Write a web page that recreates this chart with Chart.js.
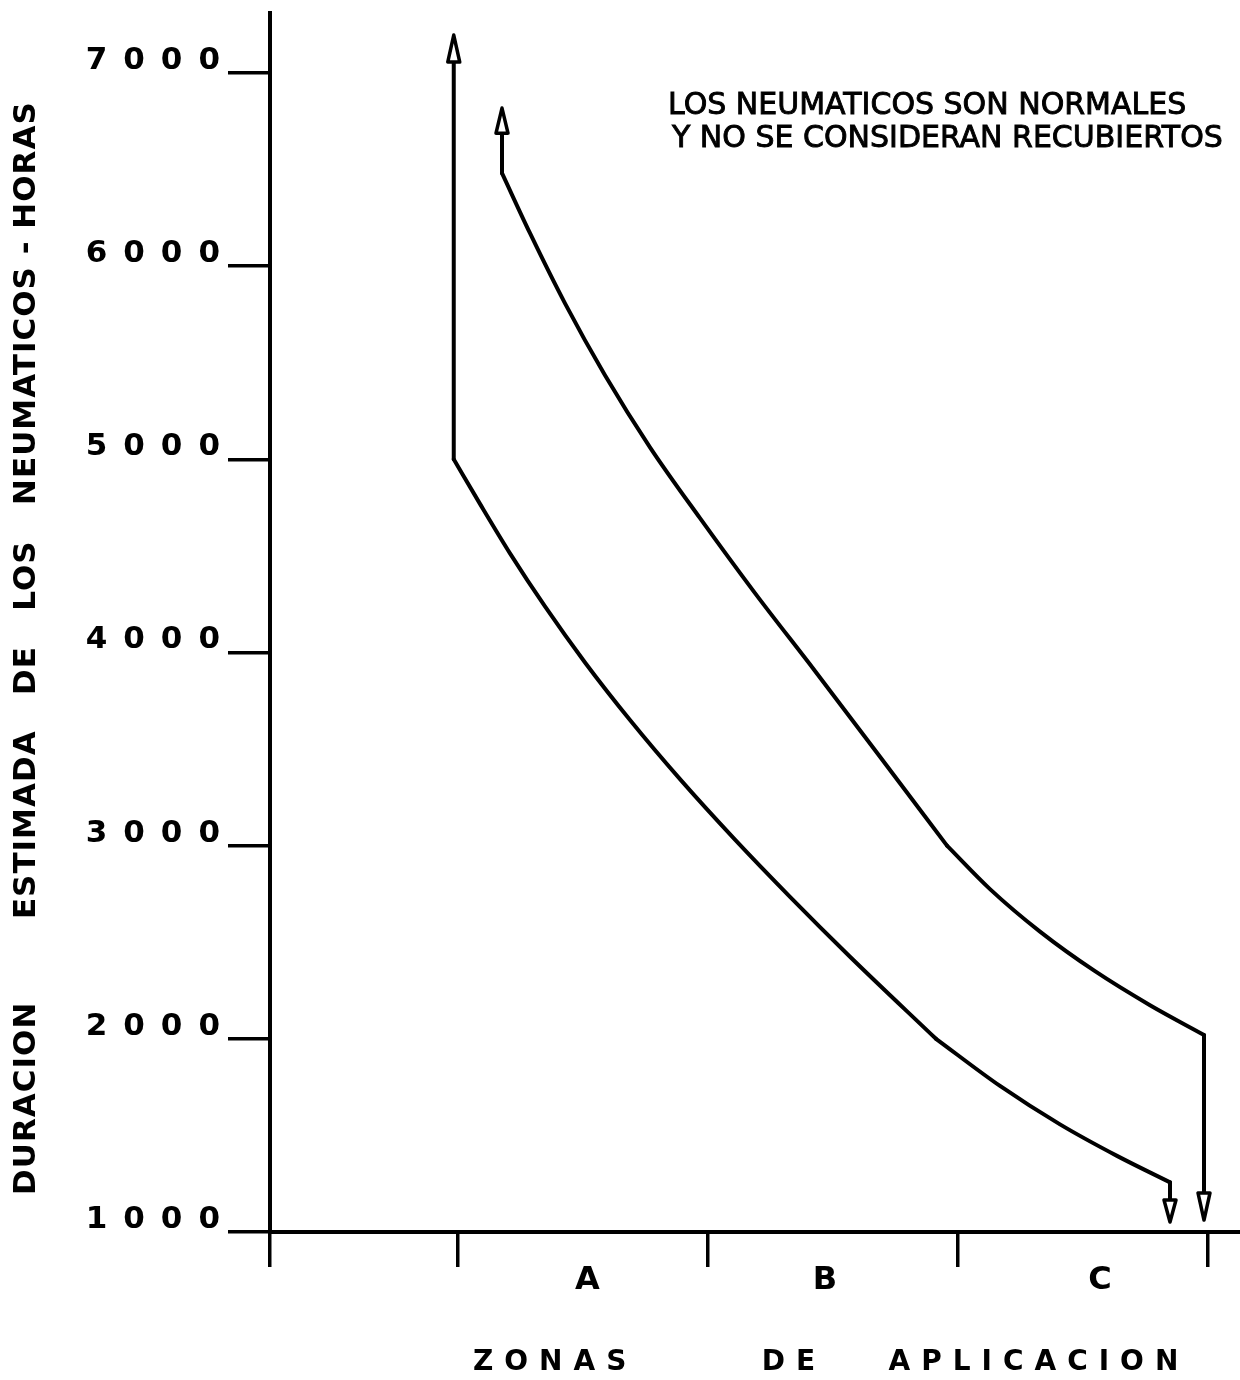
<!DOCTYPE html>
<html>
<head>
<meta charset="utf-8">
<script src="https://cdn.jsdelivr.net/npm/chart.js@4/dist/chart.umd.min.js"></script>
<style>
  html, body { margin: 0; padding: 0; background: #ffffff; }
  #wrap { width: 1240px; height: 1380px; position: relative; }
</style>
</head>
<body>
<div id="wrap"><canvas id="c"></canvas></div>
<script>
// ---- Data ----
const yTickValues = [1000, 2000, 3000, 4000, 5000, 6000, 7000];
const yMin = 1000;
const yMax = 7310;
const xMin = 0;
const xMax = 3.88;
const zoneBoundaries = [0, 0.75, 1.75, 2.75, 3.75];
const zoneLabels = ['A', 'B', 'C'];
const zoneLabelPositions = [1.27, 2.22, 3.32];

// lower curve: top of vertical arrow line -> 5000 corner -> 2000 corner -> base of down arrow
const lowerX = [0.735, 0.735, 0.84, 0.96, 1.10, 1.26, 1.44, 1.64, 1.86, 2.08, 2.32, 2.664, 2.92, 3.16, 3.388, 3.60, 3.60];
const lowerY = [7056, 5000, 4769, 4513, 4238, 3948, 3650, 3344, 3031, 2735, 2425, 2000, 1756, 1557, 1394, 1257, 1166];
const lowerCorners = [1, 11, 15];

// upper curve: top of vertical arrow line -> 6480 corner -> 3000 corner -> 2000 corner -> base of down arrow
const upperX = [0.928, 0.928, 1.04, 1.18, 1.34, 1.52, 1.72, 1.94, 2.18, 2.44, 2.708, 2.88, 3.08, 3.30, 3.52, 3.736, 3.736];
const upperY = [6688, 6481, 6170, 5807, 5435, 5062, 4695, 4307, 3904, 3460, 3000, 2775, 2555, 2350, 2174, 2020, 1202];
const upperCorners = [1, 10, 15];

// arrow tips: lower-top, lower-bottom, upper-top, upper-bottom
const arrowTipX = [0.735, 3.60, 0.928, 3.736];
const arrowTipY = [7196, 1052, 6818, 1062];

const yTitle = 'DURACION       ESTIMADA   DE   LOS   NEUMATICOS - HORAS';
const xTitle = 'ZONAS      DE   APLICACION';
const noteLines = ['LOS NEUMATICOS SON NORMALES', 'Y NO SE CONSIDERAN RECUBIERTOS'];

// ---- Build ----
const toPts = (xs, ys) => xs.map((v, i) => ({ x: v, y: ys[i] }));
const lowerPts = toPts(lowerX, lowerY);
const upperPts = toPts(upperX, upperY);
const arrowBases = [lowerPts[0], lowerPts[lowerPts.length - 1], upperPts[0], upperPts[upperPts.length - 1]];

function pieces(pts, corners) {
  const cuts = [0].concat(corners, [pts.length - 1]);
  const out = [];
  for (let i = 0; i < cuts.length - 1; i++) out.push(pts.slice(cuts[i], cuts[i + 1] + 1));
  return out;
}

const FONT = 'DejaVu Sans';
const textStyle = {
  x: { labels: '0px', title: '11px', shift: [203, 0] },
  y: { labels: '16px', title: '1px', shift: [0, -37] }
};

const spacingPlugin = {
  id: 'spacing',
  beforeDraw(chart) {
    ['x', 'y'].forEach(id => {
      const s = chart.scales[id];
      if (!s || s.__wrapped) return;
      const dl = s.drawLabels, dt = s.drawTitle;
      s.drawLabels = function (a) {
        const c = this.ctx; c.save(); c.letterSpacing = textStyle[id].labels; dl.call(this, a); c.restore();
      };
      s.drawTitle = function () {
        const c = this.ctx; c.save(); c.letterSpacing = textStyle[id].title;
        c.translate(textStyle[id].shift[0], textStyle[id].shift[1]);
        dt.call(this); c.restore();
      };
      s.__wrapped = true;
    });
  }
};

const arrowPlugin = {
  id: 'arrows',
  afterDatasetsDraw(chart) {
    const { ctx, scales: { x, y } } = chart;
    ctx.save();
    arrowBases.forEach((b, i) => {
      const bx = x.getPixelForValue(b.x), by = y.getPixelForValue(b.y);
      const tx = x.getPixelForValue(arrowTipX[i]), ty = y.getPixelForValue(arrowTipY[i]);
      const dx = tx - bx, dy = ty - by, len = Math.hypot(dx, dy);
      const px = -dy / len, py = dx / len, hw = 6;
      ctx.beginPath();
      ctx.moveTo(tx, ty);
      ctx.lineTo(bx + px * hw, by + py * hw);
      ctx.lineTo(bx - px * hw, by - py * hw);
      ctx.closePath();
      ctx.fillStyle = '#ffffff';
      ctx.fill();
      ctx.lineWidth = 3.5;
      ctx.lineJoin = 'round';
      ctx.strokeStyle = '#000000';
      ctx.stroke();
    });
    ctx.restore();
  }
};

const notePlugin = {
  id: 'note',
  afterDraw(chart) {
    const ctx = chart.ctx;
    ctx.save();
    ctx.font = '30px "' + FONT + '"';
    ctx.fillStyle = '#000000';
    ctx.strokeStyle = '#000000';
    ctx.lineWidth = 0.9;
    ctx.textAlign = 'left';
    ctx.textBaseline = 'alphabetic';
    ctx.fillText(noteLines[0], 668, 114);
    ctx.strokeText(noteLines[0], 668, 114);
    ctx.fillText(noteLines[1], 672, 147);
    ctx.strokeText(noteLines[1], 672, 147);
    ctx.restore();
  }
};

const lineStyle = {
  showLine: true, borderColor: '#000000', borderWidth: 4, pointRadius: 0,
  cubicInterpolationMode: 'monotone', fill: false, borderJoinStyle: 'round', borderCapStyle: 'round'
};

const datasets = [];
pieces(lowerPts, lowerCorners).forEach((p, i) => datasets.push(Object.assign({ label: 'Inferior ' + (i + 1), data: p }, lineStyle)));
pieces(upperPts, upperCorners).forEach((p, i) => datasets.push(Object.assign({ label: 'Superior ' + (i + 1), data: p }, lineStyle)));

new Chart(document.getElementById('c'), {
  type: 'scatter',
  data: { datasets },
  options: {
    responsive: true,
    maintainAspectRatio: false,
    animation: false,
    layout: { padding: { top: 13, left: 0, right: 0, bottom: 0 } },
    plugins: { legend: { display: false }, tooltip: { enabled: false } },
    scales: {
      x: {
        type: 'linear', position: 'bottom', min: xMin, max: xMax,
        afterFit: s => { s.height = 148; },
        afterBuildTicks: s => {
          s.ticks = zoneBoundaries.concat(zoneLabelPositions).sort((a, b) => a - b).map(v => ({ value: v }));
        },
        grid: {
          display: true, drawOnChartArea: false, drawTicks: true, tickLength: 35, lineWidth: 3.5,
          color: c => (c.tick && zoneBoundaries.includes(c.tick.value)) ? '#000000' : 'rgba(0,0,0,0)'
        },
        border: { display: true, color: '#000000', width: 4 },
        ticks: {
          autoSkip: false, maxRotation: 0, minRotation: 0, padding: -6, color: '#000000',
          font: { family: FONT, size: 32, weight: 'bold' },
          callback: v => { const i = zoneLabelPositions.indexOf(v); return i >= 0 ? zoneLabels[i] : ''; }
        },
        title: {
          display: true, text: xTitle, color: '#000000', align: 'start',
          font: { family: FONT, size: 28, weight: 'bold' }, padding: { top: 0, bottom: 0 }
        }
      },
      y: {
        type: 'linear', position: 'left', min: yMin, max: yMax,
        afterFit: s => { s.width = 270; },
        afterBuildTicks: s => { s.ticks = yTickValues.map(v => ({ value: v })); },
        grid: { display: true, drawOnChartArea: false, drawTicks: true, tickLength: 42, lineWidth: 3.5, color: '#000000' },
        border: { display: true, color: '#000000', width: 4 },
        ticks: {
          padding: -8, labelOffset: -12, color: '#000000',
          font: { family: FONT, size: 31, weight: 'bold' },
          callback: v => String(v)
        },
        title: {
          display: true, text: yTitle, color: '#000000', align: 'start',
          font: { family: FONT, size: 31, weight: 'bold' }, padding: { top: 8, bottom: 0 }
        }
      }
    }
  },
  plugins: [spacingPlugin, arrowPlugin, notePlugin]
});
</script>
</body>
</html>
